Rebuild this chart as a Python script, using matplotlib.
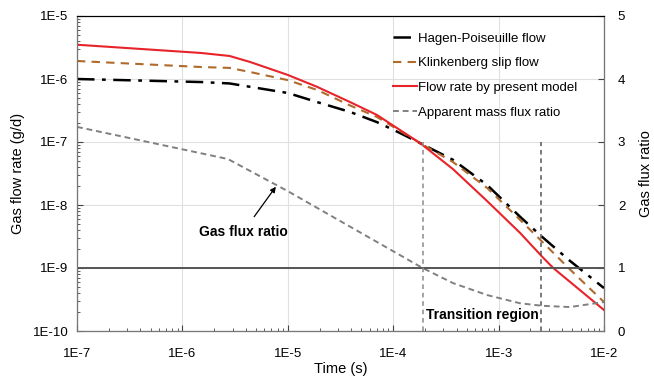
import numpy as np
import matplotlib as mpl
import matplotlib.pyplot as plt
from matplotlib.ticker import FixedLocator, FixedFormatter, LogLocator, NullFormatter

mpl.use('Agg')
plt.rcParams['font.family'] = ['Liberation Sans', 'DejaVu Sans']

# time points (s) and flow rates (g/d)
t_hp = [1e-7, 1.5e-6, 2.8e-6, 1e-5, 1.9e-5, 3.9e-5, 7e-5, 1.16e-4, 1.8e-4,
        3.7e-4, 7.8e-4, 1.6e-3, 2.6e-3, 4.75e-3, 1e-2]
q_hp = [1.0e-6, 8.95e-7, 8.5e-7, 6.0e-7, 4.3e-7, 3.0e-7, 2.07e-7, 1.39e-7, 9.6e-8,
        5.2e-8, 2.07e-8, 6.5e-9, 3.1e-9, 1.3e-9, 4.8e-10]

t_kl = [1e-7, 1.5e-6, 2.8e-6, 4.4e-6, 1e-5, 1.9e-5, 3.9e-5, 7e-5, 1.16e-4, 1.8e-4,
        3.7e-4, 7.8e-4, 1.6e-3, 2.6e-3, 4.75e-3, 1e-2]
q_kl = [1.93e-6, 1.55e-6, 1.5e-6, 1.29e-6, 9.6e-7, 6.7e-7, 3.8e-7, 2.5e-7, 1.5e-7, 9.6e-8,
        4.8e-8, 1.86e-8, 5.8e-9, 2.6e-9, 9.5e-10, 2.88e-10]

t_pm = [1e-7, 1.5e-6, 2.8e-6, 4.4e-6, 1e-5, 1.9e-5, 3.9e-5, 7e-5, 1.16e-4, 1.8e-4,
        3.7e-4, 7.8e-4, 1.6e-3, 2.6e-3, 3.3e-3, 6.9e-3, 1e-2]
q_pm = [3.5e-6, 2.59e-6, 2.32e-6, 1.86e-6, 1.16e-6, 7.5e-7, 4.3e-7, 2.69e-7, 1.55e-7, 9.6e-8,
        3.7e-8, 1.15e-8, 3.6e-9, 1.5e-9, 1.0e-9, 3.6e-10, 2.15e-10]

# apparent mass flux ratio (right axis)
t_ratio = [1e-7, 2.7e-6, 1e-5, 2.5e-5, 1.9e-4, 3.7e-4, 7.8e-4, 1.6e-3, 2.6e-3, 4.75e-3, 1e-2]
ratio = [3.24, 2.73, 2.22, 1.84, 1.0, 0.76, 0.57, 0.44, 0.40, 0.38, 0.46]

# transition region bounds
t_trans = [1.9e-4, 2.55e-3]

x_ticks = [1e-7, 1e-6, 1e-5, 1e-4, 1e-3, 1e-2]
x_labels = ['1E-7', '1E-6', '1E-5', '1E-4', '1E-3', '1E-2']
y_ticks = [1e-10, 1e-9, 1e-8, 1e-7, 1e-6, 1e-5]
y_labels = ['1E-10', '1E-9', '1E-8', '1E-7', '1E-6', '1E-5']
r_ticks = [0, 1, 2, 3, 4, 5]

fig = plt.figure(figsize=(6.54, 3.8), dpi=100)
ax = fig.add_axes([77 / 654, 1 - 331 / 380, 527 / 654, 315 / 380])
ax.set_xscale('log')
ax.set_yscale('log')
ax.set_xlim(1e-7, 1e-2)
ax.set_ylim(1e-10, 1e-5)

ax.grid(True, which='major', color='#e0e0e0', linewidth=0.8)
ax.set_axisbelow(True)

ln_hp, = ax.plot(t_hp, q_hp, color='black', linestyle=(0, (7, 3, 1.5, 3)), linewidth=1.8,
                 label='Hagen-Poiseuille flow')
ln_kl, = ax.plot(t_kl, q_kl, color='#b06a2c', linestyle=(0, (4, 3)), linewidth=1.5,
                 label='Klinkenberg slip flow')
ln_pm, = ax.plot(t_pm, q_pm, color='#e8232a', linestyle='-', linewidth=1.5,
                 label='Flow rate by present model')

ax.xaxis.set_major_locator(FixedLocator(x_ticks))
ax.xaxis.set_major_formatter(FixedFormatter(x_labels))
ax.xaxis.set_minor_locator(LogLocator(base=10, subs=np.arange(2, 10)))
ax.xaxis.set_minor_formatter(NullFormatter())
ax.yaxis.set_major_locator(FixedLocator(y_ticks))
ax.yaxis.set_major_formatter(FixedFormatter(y_labels))
ax.yaxis.set_minor_locator(LogLocator(base=10, subs=np.arange(2, 10)))
ax.yaxis.set_minor_formatter(NullFormatter())
ax.tick_params(which='both', direction='in', labelsize=9.5, color='#444444')
ax.tick_params(which='major', length=4)
ax.tick_params(which='minor', length=2.5)
ax.tick_params(axis='x', pad=12)
ax.tick_params(axis='y', pad=6)
ax.set_xlabel('Time (s)', fontsize=10.5, labelpad=2)
ax.set_ylabel('Gas flow rate (g/d)', fontsize=10.5, labelpad=6)

ax2 = ax.twinx()
ax2.set_ylim(0, 5)
ax2.set_yticks(r_ticks)
ax2.tick_params(direction='in', labelsize=9.5, length=4, pad=10, color='#444444')
ax2.set_ylabel('Gas flux ratio', fontsize=10.5, labelpad=10)

ln_r, = ax2.plot(t_ratio, ratio, color='#808080', linestyle=(0, (3, 2)), linewidth=1.4,
                 label='Apparent mass flux ratio')
ax2.axhline(1, color='#555555', linewidth=1.4)
ax2.vlines(t_trans[0], 0, 3, colors='#8a8a8a', linestyles=(0, (3, 2.5)), linewidth=1.1)
ax2.vlines(t_trans[1], 0, 3, colors='#555555', linestyles=(0, (3, 2.5)), linewidth=1.1)

for sp in ['left', 'bottom', 'right']:
    ax2.spines[sp].set_color('#777777')
ax2.spines['top'].set_color('black')

ax2.text(np.sqrt(t_trans[0] * t_trans[1]), 0.25, 'Transition region', ha='center', va='center',
         fontsize=10, fontweight='bold')
ax2.annotate('Gas flux ratio', xy=(7.7e-6, 2.29), xytext=(3.76e-6, 1.57),
             ha='center', va='center', fontsize=10, fontweight='bold',
             arrowprops=dict(arrowstyle='-|>', color='black', lw=0.9, mutation_scale=8,
                             shrinkA=5, shrinkB=0))

leg = ax2.legend(handles=[ln_hp, ln_kl, ln_pm, ln_r], loc='upper left',
                 bbox_to_anchor=(311 / 527, 0.965), frameon=False, fontsize=9.5,
                 handlelength=1.8, handletextpad=0.1, labelspacing=0.95, borderaxespad=0)

fig.savefig('out.png', dpi=100)
